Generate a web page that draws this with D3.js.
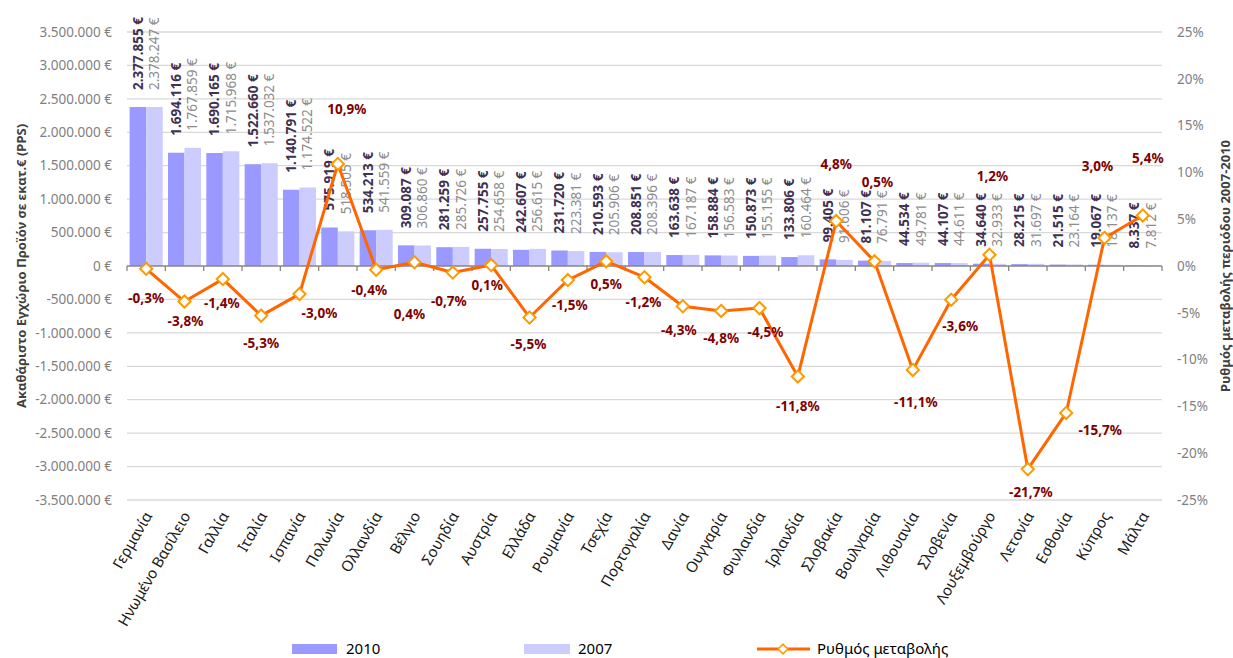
<!DOCTYPE html>
<html>
<head>
<meta charset="utf-8">
<script src="https://cdn.jsdelivr.net/npm/d3@7"></script>
<style>
    body { margin: 0; background: #fff; }
    #chart { width: 1233px; height: 658px; }
    text { font-family: "Noto Sans", sans-serif; }
    .grid line { stroke: #d9d9d9; stroke-width: 1.3; }
    .tick-label { fill: #7f7f7f; font-size: 13.5px; }
    .cat-label { fill: #1a1a1a; font-size: 15px; }
    .axis-title { fill: #404040; font-size: 13px; font-weight: bold; }
    .val-2010 { fill: #3f3151; font-size: 13.5px; font-weight: bold; }
    .val-2007 { fill: #8c8c8c; font-size: 13.5px; }
    .pct-label { fill: #7f0000; font-size: 13.5px; font-weight: bold; }
    .legend text { fill: #000; font-size: 15px; }
</style>
</head>
<body>
<div id="chart"></div>
<script>
// chart data
const categories = ["Γερμανία", "Ηνωμένο Βασίλειο", "Γαλλία", "Ιταλία", "Ισπανία", "Πολωνία",
    "Ολλανδία", "Βέλγιο", "Σουηδία", "Αυστρία", "Ελλάδα", "Ρουμανία", "Τσεχία", "Πορτογαλία",
    "Δανία", "Ουγγαρία", "Φινλανδία", "Ιρλανδία", "Σλοβακία", "Βουλγαρία", "Λιθουανία",
    "Σλοβενία", "Λουξεμβούργο", "Λετονία", "Εσθονία", "Κύπρος", "Μάλτα"];

const gdp2010 = [2377855, 1694116, 1690165, 1522660, 1140791, 575919, 534213, 309087, 281259,
    257755, 242607, 231720, 210593, 208851, 163638, 158884, 150873, 133806, 99405, 81107,
    44534, 44107, 34640, 28215, 21515, 19067, 8337];

const gdp2007 = [2378247, 1767859, 1715968, 1537032, 1174522, 518505, 541559, 306860, 285726,
    254658, 256615, 223381, 205906, 208396, 167187, 156583, 155155, 160464, 91606, 76791,
    49781, 44611, 32933, 31697, 23164, 18137, 7812];

const changeRate = [-0.3, -3.8, -1.4, -5.3, -3.0, 10.9, -0.4, 0.4, -0.7, 0.1, -5.5, -1.5, 0.5,
    -1.2, -4.3, -4.8, -4.5, -11.8, 4.8, 0.5, -11.1, -3.6, 1.2, -21.7, -15.7, 3.0, 5.4];

const leftTicks = d3.range(-3500000, 3500001, 500000);
const rightTicks = d3.range(-25, 26, 5);

// where each rate label sits relative to its marker (px)
const rateLabelOffset = [[0, 29], [1, 20], [-1, 24], [0, 28], [20, 19], [9, -55], [-7, 21],
    [-5, 52], [-4, 29], [-4, 20], [-1, 27], [2, 25], [0, 23], [-1, 25], [-4, 24], [0, 27],
    [6, 24], [0, 30], [0, -57], [3, -79], [3, 32], [9, 27], [3, -78], [3, 23], [34, 17],
    [-7, -72], [5, -57]];

// greek number formatting: 1.234.567 €
const locale = d3.formatLocale({
    decimal: ",", thousands: ".", grouping: [3], currency: ["", " €"], minus: "-"
});
const fmtEuro = v => locale.format(",.0f")(v) + " €";
const fmtPct = v => locale.format(".1f")(v) + "%";

class ComboChart {
    constructor(opts) {
        this.element = opts.element;
        this.draw();
    }

    draw() {
        this.width = 1233;
        this.height = 658;
        this.margin = { top: 32, right: 71, bottom: 158, left: 127 };
        this.innerW = this.width - this.margin.left - this.margin.right;
        this.innerH = this.height - this.margin.top - this.margin.bottom;

        const svg = d3.select(this.element).append('svg')
            .attr('width', this.width)
            .attr('height', this.height);
        this.svg = svg;

        this.plot = svg.append('g')
            .attr('transform', `translate(${this.margin.left},${this.margin.top})`);

        this.createScales();
        this.addAxes();
        this.addBars();
        this.addValueLabels();
        this.addLine();
        this.addLegend();
    }

    createScales() {
        this.xScale = d3.scaleBand()
            .domain(categories)
            .range([0, this.innerW]);

        this.xSub = d3.scaleBand()
            .domain(['2010', '2007'])
            .range([0, this.xScale.step()])
            .paddingOuter(0.16);

        this.yScale = d3.scaleLinear()
            .domain([-3500000, 3500000])
            .range([this.innerH, 0]);

        this.yRight = d3.scaleLinear()
            .domain([-25, 25])
            .range([this.innerH, 0]);
    }

    addAxes() {
        // horizontal gridlines
        this.plot.append('g')
            .attr('class', 'grid')
            .selectAll('line')
            .data(leftTicks.filter(d => d !== 0))
            .enter()
            .append('line')
            .attr('x1', 0)
            .attr('x2', this.innerW)
            .attr('y1', d => this.yScale(d))
            .attr('y2', d => this.yScale(d));

        // left tick labels
        this.plot.append('g')
            .selectAll('text')
            .data(leftTicks)
            .enter()
            .append('text')
            .attr('class', 'tick-label')
            .attr('x', -15)
            .attr('y', d => this.yScale(d))
            .attr('dy', '0.35em')
            .attr('text-anchor', 'end')
            .text(fmtEuro);

        // right tick labels
        this.plot.append('g')
            .selectAll('text')
            .data(rightTicks)
            .enter()
            .append('text')
            .attr('class', 'tick-label')
            .attr('x', this.innerW + 15)
            .attr('y', d => this.yRight(d))
            .attr('dy', '0.35em')
            .attr('text-anchor', 'start')
            .text(d => d + '%');

        // category labels, rotated
        this.plot.append('g')
            .selectAll('text')
            .data(categories)
            .enter()
            .append('text')
            .attr('class', 'cat-label')
            .attr('text-anchor', 'end')
            .attr('dy', '0.35em')
            .attr('transform', d => {
                const cx = this.xScale(d) + this.xScale.bandwidth() / 2;
                return `translate(${cx + 2},${this.innerH + 13}) rotate(-60)`;
            })
            .text(d => d);

        // axis titles
        this.svg.append('text')
            .attr('class', 'axis-title')
            .attr('text-anchor', 'middle')
            .attr('transform', `translate(21,${this.margin.top + this.innerH / 2}) rotate(-90)`)
            .attr('dy', '0.35em')
            .text('Ακαθάριστο Εγχώριο Προϊόν σε εκατ.€ (PPS)');

        this.svg.append('text')
            .attr('class', 'axis-title')
            .attr('text-anchor', 'middle')
            .attr('transform', `translate(1225,${this.margin.top + this.innerH / 2}) rotate(-90)`)
            .attr('dy', '0.35em')
            .text('Ρυθμός μεταβολής περιόδου 2007-2010');
    }

    addBars() {
        const rows = categories.map((c, i) => ({ cat: c, v2010: gdp2010[i], v2007: gdp2007[i] }));

        const groups = this.plot.append('g')
            .selectAll('g')
            .data(rows)
            .enter()
            .append('g')
            .attr('transform', d => `translate(${this.xScale(d.cat)},0)`);

        groups.append('rect')
            .attr('x', this.xSub('2010'))
            .attr('width', this.xSub.bandwidth())
            .attr('y', d => this.yScale(d.v2010))
            .attr('height', d => this.yScale(0) - this.yScale(d.v2010))
            .attr('fill', '#9999ff');

        groups.append('rect')
            .attr('x', this.xSub('2007'))
            .attr('width', this.xSub.bandwidth())
            .attr('y', d => this.yScale(d.v2007))
            .attr('height', d => this.yScale(0) - this.yScale(d.v2007))
            .attr('fill', '#ccccff');

        // zero line + category ticks
        const y0 = this.yScale(0);
        const zero = this.plot.append('g');
        zero.append('line')
            .attr('x1', 0).attr('x2', this.innerW)
            .attr('y1', y0).attr('y2', y0)
            .attr('stroke', '#868686')
            .attr('stroke-width', 1.3);
        zero.selectAll('line.tick')
            .data(d3.range(categories.length + 1))
            .enter()
            .append('line')
            .attr('class', 'tick')
            .attr('x1', i => i * this.xScale.step())
            .attr('x2', i => i * this.xScale.step())
            .attr('y1', y0).attr('y2', y0 + 5)
            .attr('stroke', '#868686')
            .attr('stroke-width', 1.3);
    }

    addValueLabels() {
        const gap = 17;
        const half = this.xSub.bandwidth() / 2;

        this.plot.append('g')
            .selectAll('text')
            .data(categories)
            .enter()
            .append('text')
            .attr('class', 'val-2010')
            .attr('transform', (d, i) => {
                const cx = this.xScale(d) + this.xSub('2010') + half;
                return `translate(${cx},${this.yScale(gdp2010[i]) - gap}) rotate(-90)`;
            })
            .attr('dy', '0.35em')
            .text((d, i) => fmtEuro(gdp2010[i]));

        this.plot.append('g')
            .selectAll('text')
            .data(categories)
            .enter()
            .append('text')
            .attr('class', 'val-2007')
            .attr('transform', (d, i) => {
                const cx = this.xScale(d) + this.xSub('2007') + half;
                return `translate(${cx},${this.yScale(gdp2007[i]) - gap}) rotate(-90)`;
            })
            .attr('dy', '0.35em')
            .text((d, i) => fmtEuro(gdp2007[i]));
    }

    addLine() {
        const pts = categories.map((c, i) => ({
            x: this.xScale(c) + this.xScale.bandwidth() / 2,
            y: this.yRight(changeRate[i]),
            v: changeRate[i],
            off: rateLabelOffset[i]
        }));

        this.plot.append('path')
            .datum(pts)
            .attr('fill', 'none')
            .attr('stroke', '#ff6600')
            .attr('stroke-width', 3)
            .attr('stroke-linejoin', 'round')
            .attr('d', d3.line().x(d => d.x).y(d => d.y));

        const diamond = d3.symbol().type(d3.symbolDiamond2).size(95);

        this.plot.append('g')
            .selectAll('path')
            .data(pts)
            .enter()
            .append('path')
            .attr('d', diamond)
            .attr('transform', d => `translate(${d.x},${d.y})`)
            .attr('fill', '#fff')
            .attr('stroke', '#ff9900')
            .attr('stroke-width', 2);

        this.plot.append('g')
            .selectAll('text')
            .data(pts)
            .enter()
            .append('text')
            .attr('class', 'pct-label')
            .attr('text-anchor', 'middle')
            .attr('x', d => d.x + d.off[0])
            .attr('y', d => d.y + d.off[1])
            .attr('dy', '0.35em')
            .text(d => fmtPct(d.v));
    }

    addLegend() {
        const lg = this.svg.append('g').attr('class', 'legend');
        const ly = 649;

        lg.append('rect')
            .attr('x', 292).attr('y', ly - 5)
            .attr('width', 45).attr('height', 10)
            .attr('fill', '#9999ff');
        lg.append('text')
            .attr('x', 346).attr('y', ly).attr('dy', '0.35em')
            .text('2010');

        lg.append('rect')
            .attr('x', 524).attr('y', ly - 5)
            .attr('width', 46).attr('height', 10)
            .attr('fill', '#ccccff');
        lg.append('text')
            .attr('x', 578).attr('y', ly).attr('dy', '0.35em')
            .text('2007');

        lg.append('line')
            .attr('x1', 757).attr('x2', 810)
            .attr('y1', ly).attr('y2', ly)
            .attr('stroke', '#ff6600')
            .attr('stroke-width', 3);
        lg.append('path')
            .attr('d', d3.symbol().type(d3.symbolDiamond2).size(60))
            .attr('transform', `translate(783,${ly})`)
            .attr('fill', '#fff')
            .attr('stroke', '#ff9900')
            .attr('stroke-width', 1.5);
        lg.append('text')
            .attr('x', 817).attr('y', ly).attr('dy', '0.35em')
            .text('Ρυθμός μεταβολής');
    }
}

const chart = new ComboChart({ element: document.querySelector('#chart') });
</script>
</body>
</html>
